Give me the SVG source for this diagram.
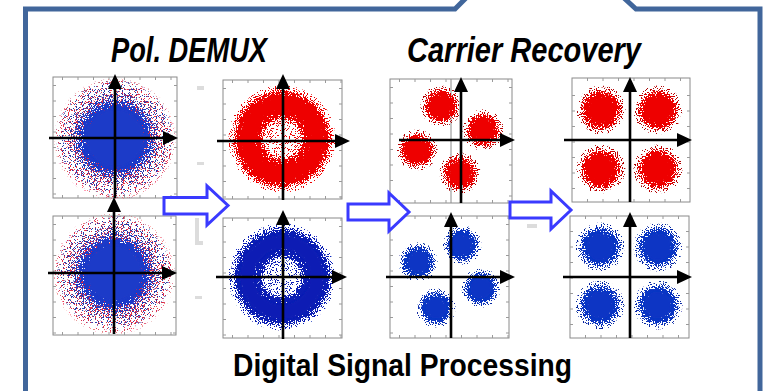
<svg xmlns="http://www.w3.org/2000/svg" width="769" height="391" viewBox="0 0 769 391">
<style>
.frame{fill:none;stroke:#41669b;stroke-width:5}
.box{fill:#fff;stroke:#8a8a8a;stroke-width:1}
.tick{stroke:#9a9a9a;stroke-width:3;stroke-dasharray:1 14.5}
.axis{stroke:#000;stroke-width:2.6;fill:none;marker-end:url(#ah)}
.grid{stroke:#8a8a8a;stroke-width:1}
.arr{fill:#fff;stroke:#3a3aff;stroke-width:3;stroke-linejoin:miter}
.ghost{fill:#dcdcdc}
.red{fill:#ee0000}
.blu{fill:#0a36c4}
.ringR{fill:none;stroke:#ee0000;stroke-width:14}
.ringB{fill:none;stroke:#0b1eb4;stroke-width:14}
.head{font-family:"Liberation Sans",Arial,sans-serif;font-weight:bold;font-style:italic;font-size:35px;fill:#000}
.foot{font-family:"Liberation Sans",Arial,sans-serif;font-weight:bold;font-size:32px;fill:#000}
</style>
<defs>
<marker id="ah" markerUnits="userSpaceOnUse" markerWidth="16" markerHeight="16" refX="0" refY="0" orient="auto" overflow="visible">
<path d="M0,-7 L15,0 L0,7 z" fill="#000"/>
</marker>
<filter id="spA" color-interpolation-filters="sRGB">
<feTurbulence type="fractalNoise" baseFrequency="0.85" numOctaves="1" seed="2" result="n"/>
<feColorMatrix in="n" type="matrix" values="0 0 0 0 0  0 0 0 0 0  0 0 0 0 0  3 0 0 0 -0.9" result="na"/>
<feComposite in="SourceAlpha" in2="na" operator="arithmetic" k2="1" k3="1" k4="-1" result="d"/>
<feComponentTransfer in="d" result="t"><feFuncA type="linear" slope="25" intercept="0"/></feComponentTransfer>
<feColorMatrix in="SourceGraphic" type="matrix" values="1 0 0 0 0  0 1 0 0 0  0 0 1 0 0  0 0 0 60 0" result="s"/>
<feComposite in="s" in2="t" operator="in"/>
</filter>
<filter id="spB" color-interpolation-filters="sRGB">
<feTurbulence type="fractalNoise" baseFrequency="0.85" numOctaves="1" seed="9" result="n"/>
<feColorMatrix in="n" type="matrix" values="0 0 0 0 0  0 0 0 0 0  0 0 0 0 0  3 0 0 0 -0.9" result="na"/>
<feComposite in="SourceAlpha" in2="na" operator="arithmetic" k2="1" k3="1" k4="-1" result="d"/>
<feComponentTransfer in="d" result="t"><feFuncA type="linear" slope="25" intercept="0"/></feComponentTransfer>
<feColorMatrix in="SourceGraphic" type="matrix" values="1 0 0 0 0  0 1 0 0 0  0 0 1 0 0  0 0 0 60 0" result="s"/>
<feComposite in="s" in2="t" operator="in"/>
</filter>
<filter id="soft" x="-20%" y="-20%" width="140%" height="140%"><feGaussianBlur stdDeviation="0.8"/></filter>
<radialGradient id="cR"><stop offset="0" stop-color="#ee0000"/><stop offset="0.55" stop-color="#ee0000"/><stop offset="0.7" stop-color="#ee0000" stop-opacity="0.6"/><stop offset="0.82" stop-color="#d00000" stop-opacity="0.25"/><stop offset="0.92" stop-color="#b00000" stop-opacity="0.08"/><stop offset="1" stop-color="#b00000" stop-opacity="0"/></radialGradient>
<radialGradient id="cB"><stop offset="0" stop-color="#0a36c4"/><stop offset="0.55" stop-color="#0a36c4"/><stop offset="0.7" stop-color="#0a36c4" stop-opacity="0.6"/><stop offset="0.82" stop-color="#0a30b8" stop-opacity="0.25"/><stop offset="0.92" stop-color="#0a2aa0" stop-opacity="0.08"/><stop offset="1" stop-color="#0a2aa0" stop-opacity="0"/></radialGradient>
<radialGradient id="rR"><stop offset="0" stop-color="#ee0000" stop-opacity="0.08"/><stop offset="0.33" stop-color="#ee0000" stop-opacity="0.2"/><stop offset="0.43" stop-color="#ee0000" stop-opacity="0.85"/><stop offset="0.5" stop-color="#ee0000"/><stop offset="0.8" stop-color="#ee0000"/><stop offset="0.88" stop-color="#ee0000" stop-opacity="0.5"/><stop offset="0.95" stop-color="#ee0000" stop-opacity="0.12"/><stop offset="1" stop-color="#ee0000" stop-opacity="0"/></radialGradient>
<radialGradient id="rB"><stop offset="0" stop-color="#0b1eb4" stop-opacity="0.08"/><stop offset="0.33" stop-color="#0b1eb4" stop-opacity="0.2"/><stop offset="0.43" stop-color="#0b1eb4" stop-opacity="0.85"/><stop offset="0.5" stop-color="#0b1eb4"/><stop offset="0.8" stop-color="#0b1eb4"/><stop offset="0.88" stop-color="#0b1eb4" stop-opacity="0.5"/><stop offset="0.95" stop-color="#0b1eb4" stop-opacity="0.12"/><stop offset="1" stop-color="#0b1eb4" stop-opacity="0"/></radialGradient>
<radialGradient id="bB"><stop offset="0" stop-color="#1c3ac8"/><stop offset="0.5" stop-color="#1c3ac8"/><stop offset="0.6" stop-color="#1c3ac8" stop-opacity="0.5"/><stop offset="0.75" stop-color="#2a3aa8" stop-opacity="0.15"/><stop offset="0.9" stop-color="#2a3aa8" stop-opacity="0.04"/><stop offset="1" stop-color="#2a3aa8" stop-opacity="0"/></radialGradient>
<radialGradient id="bR"><stop offset="0" stop-color="#e8203c"/><stop offset="0.4" stop-color="#e8203c" stop-opacity="0.5"/><stop offset="0.6" stop-color="#e0304a" stop-opacity="0.3"/><stop offset="0.8" stop-color="#e0304a" stop-opacity="0.1"/><stop offset="1" stop-color="#e0304a" stop-opacity="0"/></radialGradient>
</defs>
<rect width="769" height="391" fill="#fff"/>
<path class="frame" d="M25.5,400 L25.5,9 L455,9 L465,-1 L465,-6 L625,-6 L625,-1 L636,9 L760,9 L760,400"/>

<g id="ghosts">
<rect class="ghost" x="197" y="86" width="7" height="4"/>
<rect class="ghost" x="197" y="162" width="7" height="3"/>
<rect class="ghost" x="195" y="218" width="4" height="27"/>
<rect class="ghost" x="195" y="241" width="8" height="4"/>
<rect class="ghost" x="195" y="296" width="7" height="3"/>
<rect class="ghost" x="527" y="224" width="10" height="4"/>
</g>

<g id="plot-c1-top">
<rect class="box" x="53" y="77" width="124" height="121"/>
<line class="tick" x1="54.5" y1="85" x2="54.5" y2="198"/><line class="tick" x1="175.5" y1="85" x2="175.5" y2="198"/>
<line class="tick" x1="62" y1="78.5" x2="177" y2="78.5"/><line class="tick" x1="62" y1="196.5" x2="177" y2="196.5"/>
<circle cx="115" cy="139" r="62" fill="url(#bR)" filter="url(#spA)"/>
<circle cx="115" cy="138" r="60" fill="url(#bB)" filter="url(#spB)"/>
<circle cx="115" cy="138" r="29" fill="#1c3ac8" filter="url(#soft)"/>
<line class="axis" x1="115" y1="198" x2="115" y2="89"/>
<line class="axis" x1="49" y1="138" x2="163" y2="138"/>
</g>

<g id="plot-c1-bottom">
<rect class="box" x="53" y="216" width="123" height="119"/>
<line class="tick" x1="54.5" y1="224" x2="54.5" y2="335"/><line class="tick" x1="174.5" y1="224" x2="174.5" y2="335"/>
<line class="tick" x1="62" y1="217.5" x2="176" y2="217.5"/><line class="tick" x1="62" y1="333.5" x2="176" y2="333.5"/>
<circle cx="114" cy="274" r="62" fill="url(#bR)" filter="url(#spB)"/>
<circle cx="114" cy="273" r="59" fill="url(#bB)" filter="url(#spA)"/>
<circle cx="114" cy="273" r="28" fill="#1c3ac8" filter="url(#soft)"/>
<line class="axis" x1="114" y1="334" x2="114" y2="212"/>
<line class="axis" x1="48" y1="273" x2="162" y2="273"/>
</g>

<g id="plot-c2-top">
<rect class="box" x="223" y="80" width="119" height="119"/>
<line class="tick" x1="224.5" y1="88" x2="224.5" y2="199"/><line class="tick" x1="340.5" y1="88" x2="340.5" y2="199"/>
<line class="tick" x1="232" y1="81.5" x2="342" y2="81.5"/><line class="tick" x1="232" y1="197.5" x2="342" y2="197.5"/>
<circle cx="282" cy="139" r="54" fill="url(#rR)" filter="url(#spA)"/>
<circle class="ringR" cx="282" cy="139" r="35" filter="url(#soft)"/>
<line class="axis" x1="283" y1="200" x2="283" y2="89"/>
<line class="axis" x1="217" y1="141" x2="335" y2="141"/>
</g>

<g id="plot-c2-bottom">
<rect class="box" x="223" y="218" width="119" height="120"/>
<line class="tick" x1="224.5" y1="226" x2="224.5" y2="338"/><line class="tick" x1="340.5" y1="226" x2="340.5" y2="338"/>
<line class="tick" x1="232" y1="219.5" x2="342" y2="219.5"/><line class="tick" x1="232" y1="336.5" x2="342" y2="336.5"/>
<circle cx="282" cy="277" r="54" fill="url(#rB)" filter="url(#spB)"/>
<circle class="ringB" cx="282" cy="277" r="35" filter="url(#soft)"/>
<line class="axis" x1="283" y1="339" x2="283" y2="225"/>
<line class="axis" x1="216" y1="277" x2="332" y2="277"/>
</g>

<g id="plot-c3-top">
<rect class="box" x="390" y="79" width="122" height="124"/>
<line class="tick" x1="391.5" y1="87" x2="391.5" y2="203"/><line class="tick" x1="510.5" y1="87" x2="510.5" y2="203"/>
<line class="tick" x1="399" y1="80.5" x2="512" y2="80.5"/><line class="tick" x1="399" y1="201.5" x2="512" y2="201.5"/>
<line class="grid" x1="451" y1="79" x2="451" y2="203"/>
<g fill="url(#cR)" filter="url(#spA)">
<circle cx="441" cy="106" r="21"/><circle cx="483" cy="130" r="21"/><circle cx="417" cy="150" r="21"/><circle cx="460" cy="173" r="21"/>
</g>
<g class="red" filter="url(#soft)">
<circle cx="441" cy="106" r="11"/><circle cx="483" cy="130" r="11"/><circle cx="417" cy="150" r="11"/><circle cx="460" cy="173" r="11"/>
</g>
<line class="axis" x1="461" y1="203" x2="461" y2="92"/>
<line class="axis" x1="399" y1="140" x2="500" y2="140"/>
</g>

<g id="plot-c3-bottom">
<rect class="box" x="390" y="216" width="119" height="122"/>
<line class="tick" x1="391.5" y1="224" x2="391.5" y2="338"/><line class="tick" x1="507.5" y1="224" x2="507.5" y2="338"/>
<line class="tick" x1="399" y1="217.5" x2="509" y2="217.5"/><line class="tick" x1="399" y1="336.5" x2="509" y2="336.5"/>
<g fill="url(#cB)" filter="url(#spB)">
<circle cx="462" cy="245" r="20"/><circle cx="418" cy="262" r="20"/><circle cx="481" cy="288" r="20"/><circle cx="436" cy="308" r="20"/>
</g>
<g class="blu" filter="url(#soft)">
<circle cx="462" cy="245" r="10.5"/><circle cx="418" cy="262" r="10.5"/><circle cx="481" cy="288" r="10.5"/><circle cx="436" cy="308" r="10.5"/>
</g>
<line class="axis" x1="451" y1="338" x2="451" y2="227"/>
<line class="axis" x1="386" y1="277" x2="500" y2="277"/>
</g>

<g id="plot-c4-top">
<rect class="box" x="572" y="78" width="118" height="124"/>
<line class="tick" x1="573.5" y1="95" x2="573.5" y2="202"/><line class="tick" x1="688.5" y1="95" x2="688.5" y2="202"/>
<line class="tick" x1="587" y1="79.5" x2="690" y2="79.5"/><line class="tick" x1="587" y1="200.5" x2="690" y2="200.5"/>
<g fill="url(#cR)" filter="url(#spB)">
<circle cx="601" cy="110" r="25"/><circle cx="658" cy="110" r="25"/><circle cx="601" cy="169" r="25"/><circle cx="658" cy="169" r="25"/>
</g>
<g class="red" filter="url(#soft)">
<circle cx="601" cy="110" r="13.5"/><circle cx="658" cy="110" r="13.5"/><circle cx="601" cy="169" r="13.5"/><circle cx="658" cy="169" r="13.5"/>
</g>
<line class="axis" x1="630" y1="202" x2="630" y2="92"/>
<line class="axis" x1="564" y1="140" x2="677" y2="140"/>
</g>

<g id="plot-c4-bottom">
<rect class="box" x="570" y="216" width="119" height="122"/>
<line class="tick" x1="571.5" y1="231" x2="571.5" y2="338"/><line class="tick" x1="687.5" y1="231" x2="687.5" y2="338"/>
<line class="tick" x1="585" y1="217.5" x2="689" y2="217.5"/><line class="tick" x1="585" y1="336.5" x2="689" y2="336.5"/>
<g fill="url(#cB)" filter="url(#spA)">
<circle cx="600" cy="247" r="25"/><circle cx="658" cy="247" r="25"/><circle cx="600" cy="305" r="25"/><circle cx="658" cy="305" r="25"/>
</g>
<g class="blu" filter="url(#soft)">
<circle cx="600" cy="247" r="13.5"/><circle cx="658" cy="247" r="13.5"/><circle cx="600" cy="305" r="13.5"/><circle cx="658" cy="305" r="13.5"/>
</g>
<line class="axis" x1="630" y1="338" x2="630" y2="227"/>
<line class="axis" x1="563" y1="277" x2="677" y2="277"/>
</g>

<g id="connectors">
<polygon class="arr" points="164,197.5 207,197.5 207,186 228,205.5 207,225 207,214 164,214"/>
<polygon class="arr" points="348,204 389,204 389,193 409,212 389,231 389,220 348,220"/>
<polygon class="arr" points="510,202 551,202 551,191 571,210 551,229 551,218 510,218"/>
</g>

<g id="labels">
<text class="head" x="111" y="62" textLength="156" lengthAdjust="spacingAndGlyphs">Pol. DEMUX</text>
<text class="head" x="407" y="62" textLength="234" lengthAdjust="spacingAndGlyphs">Carrier Recovery</text>
<text class="foot" x="233" y="376" textLength="339" lengthAdjust="spacingAndGlyphs">Digital Signal Processing</text>
</g>
</svg>
